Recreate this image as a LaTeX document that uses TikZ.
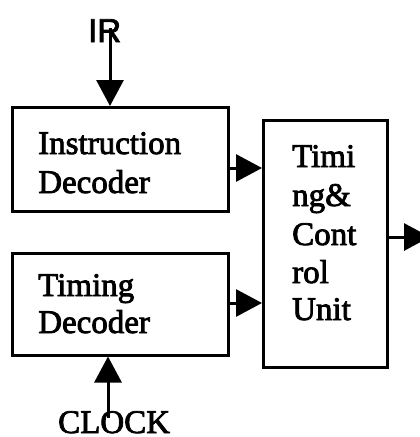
\documentclass[tikz,border=0pt]{standalone}
\usepackage{fontspec}
\setmainfont{Liberation Serif}
\newfontfamily\labelsans{Liberation Sans}
\usetikzlibrary{arrows.meta}
% slightly heavier glyphs: fill and outline the text
\newcommand\heavyglyphs[1]{\special{pdf:literal direct 2 Tr 0.8 w}#1\special{pdf:literal direct 0 Tr}}
\tikzset{
  block/.style={draw, line width=3pt, inner sep=0pt},
  wire/.style={line width=3pt, -{Triangle[length=26pt,width=27pt]}},
  txt/.style={font=\fontsize{33}{39}\selectfont, inner sep=0pt, anchor=base west},
}
\begin{document}
\begin{tikzpicture}[x=1pt,y=-1pt]
  \clip (0,0) rectangle (420,437);
  \useasboundingbox (0,0) rectangle (420,437);
  % blocks
  \node[block, minimum width=216pt, minimum height=104pt] (id) at (120,159.5) {};
  \node[block, minimum width=216pt, minimum height=102pt] (td) at (120,304) {};
  \node[block, minimum width=124pt, minimum height=247pt] (tcu) at (325.5,243.5) {};
  % block texts
  \node[txt] (idA) at (38,154) {\heavyglyphs{Instruction}};
  \node[txt] (idB) at (38,193) {\heavyglyphs{Decoder}};
  \node[txt] (tdA) at (38,296) {\heavyglyphs{Timing}};
  \node[txt] (tdB) at (38,333) {\heavyglyphs{Decoder}};
  \node[txt] (tA) at (292,167) {\heavyglyphs{Timi}};
  \node[txt] (tB) at (292,206) {\heavyglyphs{ng\&}};
  \node[txt] (tC) at (292,245) {\heavyglyphs{Cont}};
  \node[txt] (tD) at (292,283) {\heavyglyphs{rol}};
  \node[txt] (tE) at (292,320) {\heavyglyphs{Unit}};
  % input labels
  \node[txt, font=\labelsans\fontsize{33}{39}\selectfont] (ir) at (88,42) {\heavyglyphs{IR}};
  \node[txt] (clk) at (58,433) {\heavyglyphs{CLOCK}};
  \coordinate (irend) at (110,28);
  \coordinate (clkend) at (108,418);
  \coordinate (outend) at (430,237);
  % connectors
  \draw[wire] (irend) -- (irend |- id.north);
  \draw[wire] (clkend) -- (clkend |- td.south);
  \draw[wire] (id.east |- 0,168) -- (tcu.west |- 0,168);
  \draw[wire] (td.east |- 0,303) -- (tcu.west |- 0,303);
  \draw[wire] (tcu.east |- outend) -- (outend);
\end{tikzpicture}
\end{document}
